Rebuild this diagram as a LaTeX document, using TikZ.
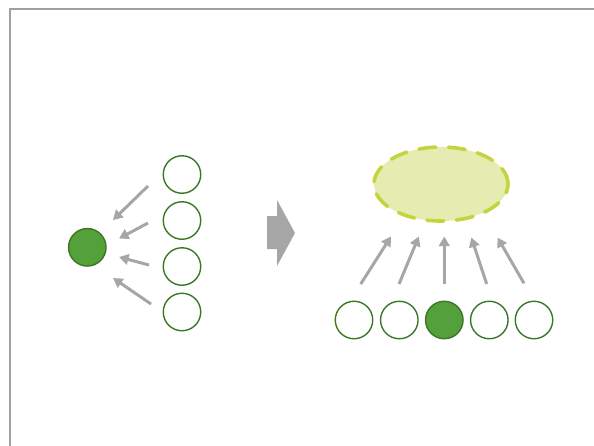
\documentclass[tikz,border=0pt]{standalone}
\usetikzlibrary{shapes.geometric,arrows.meta}
\definecolor{framegray}{HTML}{A0A0A0}
\definecolor{arrgray}{HTML}{A6A6A6}
\definecolor{nodegreen}{HTML}{54A03A}
\definecolor{edgegreen}{HTML}{3A7826}
\definecolor{ellfill}{HTML}{E5ECB2}
\definecolor{elldash}{HTML}{C3D43E}
\begin{document}
\begin{tikzpicture}[x=1pt,y=-1pt,
  neuron/.style={circle,draw=edgegreen,line width=1.4pt,minimum size=37.5pt,inner sep=0pt,fill=white},
  active/.style={neuron,fill=nodegreen},
  flow/.style={draw=arrgray,line width=3pt,-{Triangle[length=9.5pt,width=10.5pt]}},
  blob/.style={ellipse,draw=elldash,fill=ellfill,line width=3.6pt,line cap=round,dash pattern=on 17pt off 12.5pt,minimum width=134pt,minimum height=74pt,inner sep=0pt}]
\useasboundingbox (0,0) rectangle (594,445);
\clip (0,0) rectangle (594,445);
\draw[framegray,line width=2pt] (9.5,8.5) rectangle (720,560);
% left part
\node[active] (c) at (87.3,247.3) {};
\node[neuron] (n1) at (182,174.5) {};
\node[neuron] (n2) at (182,220.5) {};
\node[neuron] (n3) at (182,266.5) {};
\node[neuron] (n4) at (182,312) {};
\coordinate (t1) at (148,186); \coordinate (h1) at (113,220);
\coordinate (t2) at (148,223); \coordinate (h2) at (119,238.5);
\coordinate (t3) at (149,265); \coordinate (h3) at (119,257);
\coordinate (t4) at (151,304); \coordinate (h4) at (113,278);
\foreach \i in {1,...,4} \draw[flow] (t\i) -- (h\i);
% big arrow
\fill[arrgray] (267,216) -- (277,216) -- (277,200) -- (295,233) -- (277,266) -- (277,249) -- (267,249) -- cycle;
% right part
\node[blob] (e) at (441,184) {};
\node[neuron] (b1) at (354,320) {};
\node[neuron] (b2) at (399.3,320) {};
\node[active] (b3) at (444.3,320) {};
\node[neuron] (b4) at (489.3,320) {};
\node[neuron] (b5) at (534,320) {};
\coordinate (u1) at (360.7,284); \coordinate (v1) at (391,236.5);
\coordinate (u2) at (399,284); \coordinate (v2) at (418.8,236.5);
\coordinate (u3) at (444.3,284); \coordinate (v3) at (444.3,236.5);
\coordinate (u4) at (486.7,284); \coordinate (v4) at (471.3,237.5);
\coordinate (u5) at (524,283.3); \coordinate (v5) at (497.5,237.5);
\foreach \i in {1,...,5} \draw[flow] (u\i) -- (v\i);
\end{tikzpicture}
\end{document}
